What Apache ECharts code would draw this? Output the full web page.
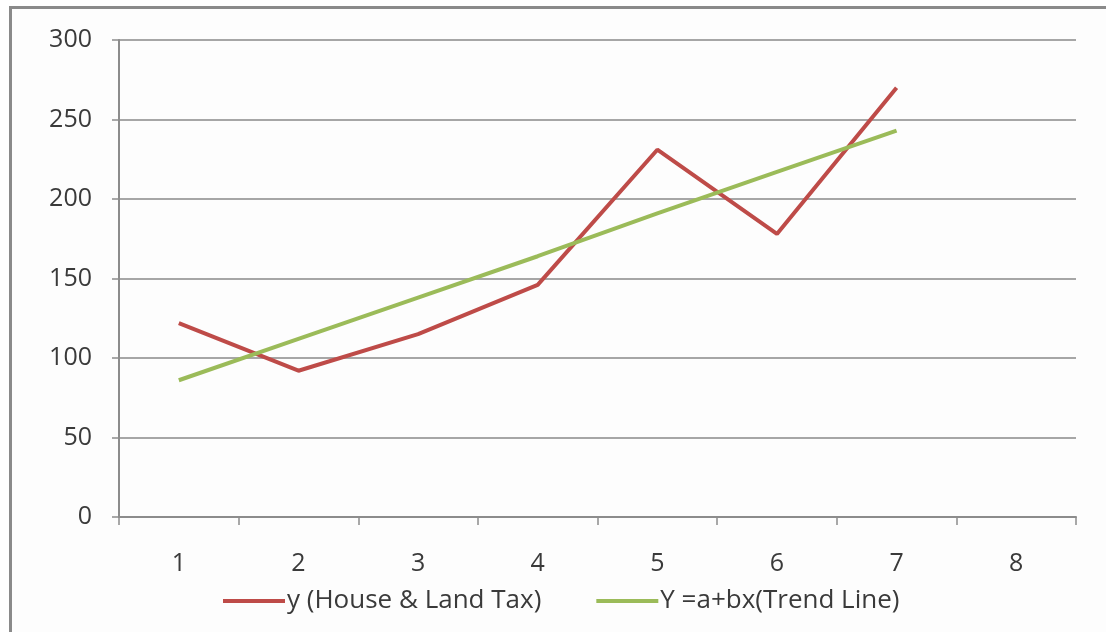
<!DOCTYPE html>
<html>
<head>
<meta charset="utf-8">
<style>
  html, body { margin: 0; padding: 0; background: #fff; }
  #frame { position: absolute; left: 9px; top: 6px; width: 1110px; height: 640px; border-left: 3px solid #8a8a8a; border-top: 3px solid #8a8a8a; background: #fdfdfd; }
  #main { position: absolute; left: 0; top: 0; width: 1106px; height: 632px; }
</style>
<script src="https://cdn.jsdelivr.net/npm/echarts@6/dist/echarts.min.js"></script>
</head>
<body>
<div id="frame"></div>
<div id="main"></div>
<script>
const categories = ['1', '2', '3', '4', '5', '6', '7', '8']
const taxValues = [122, 92, 115, 146, 231, 178, 270]
const trendValues = [86, 112, 138, 164, 191, 217, 243]
const seriesNames = ['y (House & Land Tax)', 'Y =a+bx(Trend Line)']

const chart = echarts.init(document.getElementById('main'))
const font = '"Open Sans", sans-serif'

chart.setOption({
  animation: false,
  grid: { left: 119, right: 30, top: 40, bottom: 115 },
  legend: {
    top: 583,
    left: 218,
    itemWidth: 62,
    itemHeight: 4,
    itemGap: 55,
    icon: 'rect',
    textStyle: { fontFamily: font, fontSize: 26, color: '#3a3a3a', padding: [0, 0, 0, -3] },
    data: seriesNames
  },
  xAxis: {
    type: 'category',
    data: categories,
    boundaryGap: true,
    axisLine: { lineStyle: { color: '#8c8c8c', width: 2 } },
    axisTick: { show: true, length: 8, lineStyle: { color: '#8c8c8c', width: 1.5 } },
    axisLabel: { margin: 34, fontFamily: font, fontSize: 25, color: '#3a3a3a' }
  },
  yAxis: {
    type: 'value',
    min: 0,
    max: 300,
    interval: 50,
    axisLine: { show: true, lineStyle: { color: '#8c8c8c', width: 2 } },
    axisTick: { show: true, length: 7, lineStyle: { color: '#8c8c8c', width: 1.5 } },
    axisLabel: { margin: 27, fontFamily: font, fontSize: 25, color: '#3a3a3a' },
    splitLine: { lineStyle: { color: '#a6a6a6', width: 2 } }
  },
  series: [
    {
      name: seriesNames[0],
      type: 'line',
      data: taxValues,
      showSymbol: false,
      symbol: 'none',
      color: '#be4b48',
      lineStyle: { width: 4, color: '#be4b48' }
    },
    {
      name: seriesNames[1],
      type: 'line',
      data: trendValues,
      showSymbol: false,
      symbol: 'none',
      color: '#9bbb59',
      lineStyle: { width: 4, color: '#9bbb59' }
    }
  ]
})
</script>
</body>
</html>
